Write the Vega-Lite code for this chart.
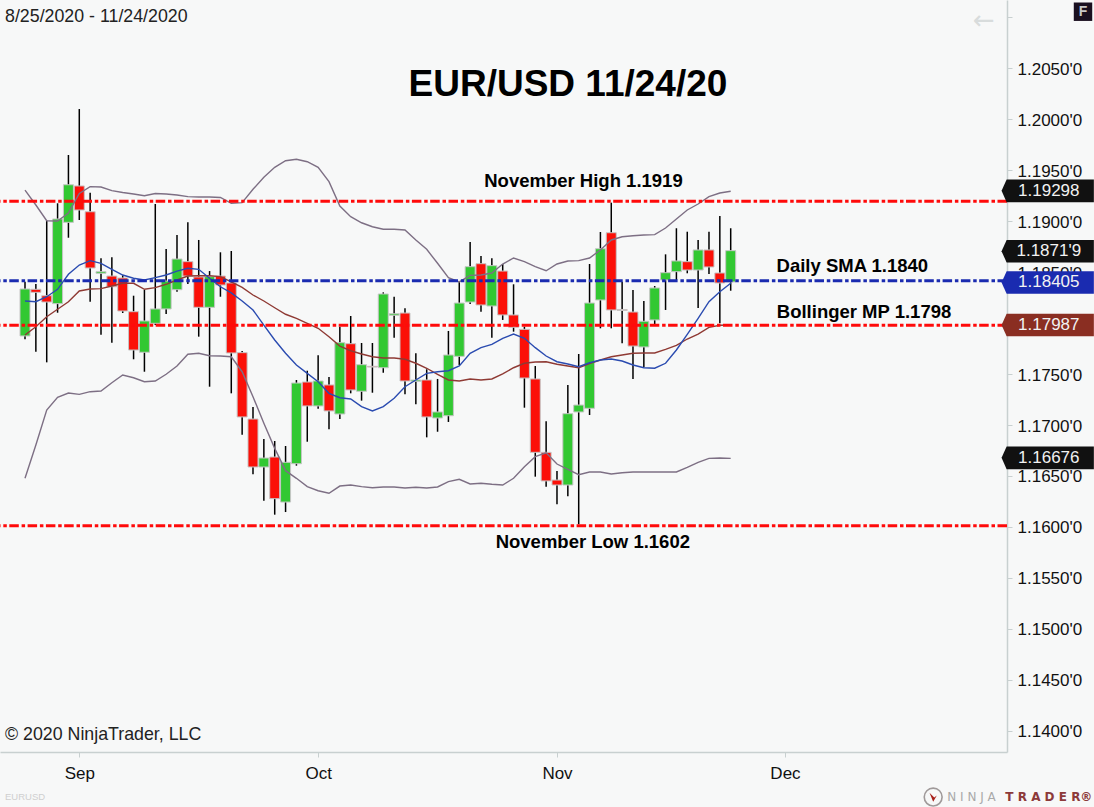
{
"$schema":"https://vega.github.io/schema/vega-lite/v6.json",
"width":1007,"height":752,
"autosize":{"type":"none"},
"padding":{"left":0,"top":0,"right":87,"bottom":55},
"background":"#f7f8f8",
"config":{"view":{"stroke":null},"font":"Liberation Sans"},
"resolve":{"scale":{"color":"independent"}},
"datasets":{"candles":[
{"session":0,"date":"2020-08-25","open":1.17874,"high":1.18406,"low":1.17841,"close":1.18335,"upper":1.19306,"mid":1.17883,"lower":1.16477,"sma":1.18217},
{"session":1,"date":"2020-08-26","open":1.18332,"high":1.18384,"low":1.1772,"close":1.18302,"upper":1.19159,"mid":1.17965,"lower":1.16804,"sma":1.1821},
{"session":2,"date":"2020-08-27","open":1.18269,"high":1.19005,"low":1.17615,"close":1.18207,"upper":1.19005,"mid":1.18063,"lower":1.17147,"sma":1.18259},
{"session":3,"date":"2020-08-28","open":1.18191,"high":1.19176,"low":1.18102,"close":1.19022,"upper":1.19002,"mid":1.18136,"lower":1.17272,"sma":1.18332},
{"session":4,"date":"2020-08-31","open":1.18989,"high":1.1965,"low":1.18838,"close":1.19358,"upper":1.19081,"mid":1.1821,"lower":1.17314,"sma":1.18479},
{"session":5,"date":"2020-09-01","open":1.19346,"high":1.20101,"low":1.19012,"close":1.1911,"upper":1.19272,"mid":1.18315,"lower":1.17301,"sma":1.1857},
{"session":6,"date":"2020-09-02","open":1.19093,"high":1.1928,"low":1.1821,"close":1.18541,"upper":1.19339,"mid":1.18335,"lower":1.17327,"sma":1.18613},
{"session":7,"date":"2020-09-03","open":1.18489,"high":1.18636,"low":1.17886,"close":1.18505,"upper":1.19336,"mid":1.18338,"lower":1.17334,"sma":1.18587},
{"session":8,"date":"2020-09-04","open":1.18462,"high":1.18646,"low":1.17808,"close":1.18357,"upper":1.193,"mid":1.18364,"lower":1.17415,"sma":1.18528},
{"session":9,"date":"2020-09-07","open":1.18443,"high":1.1847,"low":1.18099,"close":1.18119,"upper":1.19282,"mid":1.18391,"lower":1.17491,"sma":1.18472},
{"session":10,"date":"2020-09-08","open":1.18112,"high":1.18269,"low":1.17645,"close":1.17736,"upper":1.19267,"mid":1.18391,"lower":1.17464,"sma":1.1844},
{"session":11,"date":"2020-09-09","open":1.17714,"high":1.18325,"low":1.17523,"close":1.18021,"upper":1.1925,"mid":1.18332,"lower":1.17425,"sma":1.18423},
{"session":12,"date":"2020-09-10","open":1.17998,"high":1.19169,"low":1.17981,"close":1.18139,"upper":1.19272,"mid":1.18348,"lower":1.17432,"sma":1.18446},
{"session":13,"date":"2020-09-11","open":1.18139,"high":1.18727,"low":1.18089,"close":1.18413,"upper":1.19267,"mid":1.18381,"lower":1.17498,"sma":1.18472},
{"session":14,"date":"2020-09-14","open":1.18328,"high":1.18865,"low":1.18308,"close":1.18629,"upper":1.19257,"mid":1.18423,"lower":1.17579,"sma":1.18511},
{"session":15,"date":"2020-09-15","open":1.18603,"high":1.18989,"low":1.18384,"close":1.18462,"upper":1.19241,"mid":1.18462,"lower":1.17694,"sma":1.18538},
{"session":16,"date":"2020-09-16","open":1.18453,"high":1.18816,"low":1.17867,"close":1.18155,"upper":1.19238,"mid":1.18465,"lower":1.17704,"sma":1.18528},
{"session":17,"date":"2020-09-17","open":1.18155,"high":1.18511,"low":1.17376,"close":1.18456,"upper":1.19238,"mid":1.18465,"lower":1.1768,"sma":1.1844},
{"session":18,"date":"2020-09-18","open":1.18462,"high":1.18695,"low":1.18259,"close":1.18374,"upper":1.19233,"mid":1.18456,"lower":1.17677,"sma":1.18357},
{"session":19,"date":"2020-09-21","open":1.18394,"high":1.18708,"low":1.17311,"close":1.17707,"upper":1.19176,"mid":1.18404,"lower":1.1767,"sma":1.18296},
{"session":20,"date":"2020-09-22","open":1.1771,"high":1.17726,"low":1.16905,"close":1.17079,"upper":1.19182,"mid":1.1835,"lower":1.17523,"sma":1.18217},
{"session":21,"date":"2020-09-23","open":1.17059,"high":1.17177,"low":1.16516,"close":1.16588,"upper":1.19313,"mid":1.18276,"lower":1.17278,"sma":1.18129},
{"session":22,"date":"2020-09-24","open":1.16588,"high":1.16863,"low":1.16257,"close":1.16676,"upper":1.19431,"mid":1.18217,"lower":1.17017,"sma":1.17981},
{"session":23,"date":"2020-09-25","open":1.16686,"high":1.16843,"low":1.1612,"close":1.16277,"upper":1.19529,"mid":1.18151,"lower":1.16771,"sma":1.17834},
{"session":24,"date":"2020-09-28","open":1.16244,"high":1.16794,"low":1.16146,"close":1.16634,"upper":1.19594,"mid":1.18087,"lower":1.16552,"sma":1.17704},
{"session":25,"date":"2020-09-29","open":1.1662,"high":1.17442,"low":1.16601,"close":1.17412,"upper":1.19608,"mid":1.18047,"lower":1.16477,"sma":1.17589},
{"session":26,"date":"2020-09-30","open":1.17422,"high":1.17533,"low":1.16836,"close":1.17187,"upper":1.19584,"mid":1.17998,"lower":1.16395,"sma":1.17507},
{"session":27,"date":"2020-10-01","open":1.17187,"high":1.17684,"low":1.1716,"close":1.17432,"upper":1.19529,"mid":1.17949,"lower":1.16355,"sma":1.17425},
{"session":28,"date":"2020-10-02","open":1.17393,"high":1.17471,"low":1.16958,"close":1.17138,"upper":1.19388,"mid":1.17867,"lower":1.1633,"sma":1.17311},
{"session":29,"date":"2020-10-05","open":1.17108,"high":1.17965,"low":1.17059,"close":1.17808,"upper":1.19149,"mid":1.17775,"lower":1.16401,"sma":1.17268},
{"session":30,"date":"2020-10-06","open":1.17798,"high":1.1807,"low":1.17311,"close":1.17344,"upper":1.19044,"mid":1.17729,"lower":1.16411,"sma":1.17255},
{"session":31,"date":"2020-10-07","open":1.17331,"high":1.17805,"low":1.17239,"close":1.17592,"upper":1.18985,"mid":1.17697,"lower":1.16395,"sma":1.1718},
{"session":32,"date":"2020-10-08","open":1.17576,"high":1.17805,"low":1.17317,"close":1.17569,"upper":1.18946,"mid":1.1767,"lower":1.16385,"sma":1.17138},
{"session":33,"date":"2020-10-09","open":1.17562,"high":1.18302,"low":1.17513,"close":1.18286,"upper":1.18921,"mid":1.17658,"lower":1.16392,"sma":1.1718},
{"session":34,"date":"2020-10-12","open":1.18077,"high":1.18259,"low":1.17857,"close":1.18092,"upper":1.18921,"mid":1.17658,"lower":1.16392,"sma":1.17262},
{"session":35,"date":"2020-10-13","open":1.18099,"high":1.18145,"low":1.17301,"close":1.17432,"upper":1.18914,"mid":1.17645,"lower":1.16382,"sma":1.17376},
{"session":36,"date":"2020-10-14","open":1.17429,"high":1.17704,"low":1.17203,"close":1.17442,"upper":1.18816,"mid":1.17606,"lower":1.16389,"sma":1.17442},
{"session":37,"date":"2020-10-15","open":1.17442,"high":1.17547,"low":1.16879,"close":1.17079,"upper":1.18724,"mid":1.17557,"lower":1.16382,"sma":1.17507},
{"session":38,"date":"2020-10-16","open":1.17069,"high":1.17452,"low":1.16934,"close":1.17128,"upper":1.18587,"mid":1.17498,"lower":1.16392,"sma":1.17523},
{"session":39,"date":"2020-10-19","open":1.17091,"high":1.17923,"low":1.1703,"close":1.17687,"upper":1.18446,"mid":1.17442,"lower":1.16444,"sma":1.17533},
{"session":40,"date":"2020-10-20","open":1.17674,"high":1.18406,"low":1.17589,"close":1.18197,"upper":1.18404,"mid":1.17432,"lower":1.16467,"sma":1.17579},
{"session":41,"date":"2020-10-21","open":1.18207,"high":1.18796,"low":1.18188,"close":1.18554,"upper":1.18469,"mid":1.17452,"lower":1.16421,"sma":1.17704},
{"session":42,"date":"2020-10-22","open":1.18583,"high":1.18659,"low":1.18112,"close":1.18178,"upper":1.18472,"mid":1.17442,"lower":1.16428,"sma":1.17759},
{"session":43,"date":"2020-10-23","open":1.18168,"high":1.18636,"low":1.17857,"close":1.18564,"upper":1.18492,"mid":1.17452,"lower":1.16418,"sma":1.17792},
{"session":44,"date":"2020-10-26","open":1.18511,"high":1.1858,"low":1.18031,"close":1.1808,"upper":1.1858,"mid":1.17501,"lower":1.16411,"sma":1.17851},
{"session":45,"date":"2020-10-27","open":1.1808,"high":1.18381,"low":1.17916,"close":1.17959,"upper":1.18639,"mid":1.17562,"lower":1.16477,"sma":1.17893},
{"session":46,"date":"2020-10-28","open":1.17939,"high":1.17965,"low":1.1717,"close":1.17461,"upper":1.18603,"mid":1.17606,"lower":1.16591,"sma":1.17851},
{"session":47,"date":"2020-10-29","open":1.17452,"high":1.17579,"low":1.16493,"close":1.16732,"upper":1.18554,"mid":1.17618,"lower":1.16689,"sma":1.17759},
{"session":48,"date":"2020-10-30","open":1.16732,"high":1.17036,"low":1.16395,"close":1.16451,"upper":1.18514,"mid":1.17621,"lower":1.16728,"sma":1.17677},
{"session":49,"date":"2020-11-02","open":1.1646,"high":1.16549,"low":1.16222,"close":1.16411,"upper":1.1858,"mid":1.17596,"lower":1.16617,"sma":1.17621},
{"session":50,"date":"2020-11-03","open":1.16411,"high":1.17393,"low":1.163,"close":1.17111,"upper":1.1861,"mid":1.17579,"lower":1.16565,"sma":1.17599},
{"session":51,"date":"2020-11-04","open":1.17128,"high":1.17697,"low":1.16026,"close":1.17196,"upper":1.18613,"mid":1.17562,"lower":1.16512,"sma":1.17572},
{"session":52,"date":"2020-11-05","open":1.17164,"high":1.1858,"low":1.17098,"close":1.18197,"upper":1.18639,"mid":1.17602,"lower":1.16539,"sma":1.17611},
{"session":53,"date":"2020-11-06","open":1.18227,"high":1.18894,"low":1.17949,"close":1.1873,"upper":1.18718,"mid":1.17638,"lower":1.16539,"sma":1.17638},
{"session":54,"date":"2020-11-09","open":1.18887,"high":1.19182,"low":1.17949,"close":1.18129,"upper":1.18816,"mid":1.1767,"lower":1.16519,"sma":1.17648},
{"session":55,"date":"2020-11-10","open":1.18134,"high":1.18406,"low":1.17802,"close":1.18124,"upper":1.18848,"mid":1.17687,"lower":1.16532,"sma":1.17628},
{"session":56,"date":"2020-11-11","open":1.18109,"high":1.18325,"low":1.17452,"close":1.17775,"upper":1.18858,"mid":1.17704,"lower":1.16539,"sma":1.17589},
{"session":57,"date":"2020-11-12","open":1.17766,"high":1.18217,"low":1.17566,"close":1.18018,"upper":1.18865,"mid":1.17707,"lower":1.16539,"sma":1.17562},
{"session":58,"date":"2020-11-13","open":1.18031,"high":1.18364,"low":1.17981,"close":1.18345,"upper":1.18868,"mid":1.17707,"lower":1.16539,"sma":1.17557},
{"session":59,"date":"2020-11-16","open":1.18423,"high":1.18675,"low":1.18129,"close":1.18495,"upper":1.18933,"mid":1.17743,"lower":1.16539,"sma":1.17606},
{"session":60,"date":"2020-11-17","open":1.18505,"high":1.18931,"low":1.18423,"close":1.1861,"upper":1.19022,"mid":1.17782,"lower":1.16539,"sma":1.17736},
{"session":61,"date":"2020-11-18","open":1.18603,"high":1.18897,"low":1.18489,"close":1.18521,"upper":1.1911,"mid":1.17844,"lower":1.16585,"sma":1.1789},
{"session":62,"date":"2020-11-19","open":1.18521,"high":1.18816,"low":1.18148,"close":1.18718,"upper":1.19169,"mid":1.17893,"lower":1.16634,"sma":1.18047},
{"session":63,"date":"2020-11-20","open":1.18718,"high":1.18897,"low":1.18482,"close":1.18551,"upper":1.19241,"mid":1.17959,"lower":1.16673,"sma":1.1821},
{"session":64,"date":"2020-11-23","open":1.18492,"high":1.19051,"low":1.17998,"close":1.18394,"upper":1.19277,"mid":1.17979,"lower":1.16676,"sma":1.18308},
{"session":65,"date":"2020-11-24","open":1.18404,"high":1.18931,"low":1.18318,"close":1.18711,"upper":1.19294,"mid":1.17981,"lower":1.16673,"sma":1.18391}
],
"tags":[{"series":"Upper band","price":1.19298,"label":"1.19298"},{"series":"Last","price":1.18705,"label":"1.1871'9"},{"series":"SMA","price":1.18399,"label":"1.18405"},{"series":"Mid band","price":1.17982,"label":"1.17987"},{"series":"Lower band","price":1.16678,"label":"1.16676"}]
},
"layer":[
{"data":{"name":"candles"},"mark":{"type":"rule","color":"#000000","strokeWidth":1.5},
 "encoding":{
  "x":{"field":"session","type":"quantitative","scale":{"domain":[-2.303,90.45],"nice":false,"zero":false,"padding":0},
   "axis":{"title":null,"values":[5,27,49,70],"labelExpr":"datum.value==5?'Sep':datum.value==27?'Oct':datum.value==49?'Nov':'Dec'","grid":false,"domainColor":"#c8d0d0","domainWidth":1.5,"tickColor":"#c8d0d0","tickWidth":1,"tickSize":5,"labelFont":"Liberation Sans","labelFontSize":17,"labelColor":"#111111","labelPadding":8,"labelFlush":false,"labelOverlap":false}},
  "y":{"field":"low","type":"quantitative","scale":{"domain":[1.13791,1.21171],"nice":false,"zero":false},
   "axis":{"title":null,"orient":"right","values":[1.14,1.145,1.15,1.155,1.16,1.165,1.17,1.175,1.18,1.185,1.19,1.195,1.2,1.205,1.21],"labelExpr":"datum.value>1.207?'':format(datum.value,'.4f')+\"'0\"","grid":false,"domainColor":"#c8d0d0","domainWidth":1.5,"tickColor":"#c8d0d0","tickWidth":1,"tickSize":5,"labelFont":"Liberation Sans","labelFontSize":17,"labelColor":"#111111","labelPadding":5,"labelOffset":1,"labelOverlap":false,"labelBound":false,"labelFlush":false}},
  "y2":{"field":"high"}}},
{"data":{"name":"candles"},"mark":{"type":"bar","size":10,"stroke":"#c6c6c6","strokeWidth":1},
 "encoding":{
  "x":{"field":"session","type":"quantitative","scale":{"domain":[-2.303,90.45],"nice":false,"zero":false,"padding":0},"axis":{"title":null}},
  "y":{"field":"open","type":"quantitative","scale":{"domain":[1.13791,1.21171],"nice":false,"zero":false},"axis":{"title":null}},
  "y2":{"field":"close"},
  "color":{"condition":{"test":"datum.close>=datum.open","value":"#32c832"},"value":"#fb1008"}}},
{"data":{"name":"candles"},"mark":{"type":"line","color":"#7d6f84","strokeWidth":1.4},
 "encoding":{
  "x":{"field":"session","type":"quantitative","scale":{"domain":[-2.303,90.45],"nice":false,"zero":false,"padding":0},"axis":{"title":null}},
  "y":{"field":"upper","type":"quantitative","scale":{"domain":[1.13791,1.21171],"nice":false,"zero":false},"axis":{"title":null}}}},
{"data":{"name":"candles"},"mark":{"type":"line","color":"#7d6f84","strokeWidth":1.4},
 "encoding":{
  "x":{"field":"session","type":"quantitative","scale":{"domain":[-2.303,90.45],"nice":false,"zero":false,"padding":0},"axis":{"title":null}},
  "y":{"field":"lower","type":"quantitative","scale":{"domain":[1.13791,1.21171],"nice":false,"zero":false},"axis":{"title":null}}}},
{"data":{"name":"candles"},"mark":{"type":"line","color":"#8f3a34","strokeWidth":1.4},
 "encoding":{
  "x":{"field":"session","type":"quantitative","scale":{"domain":[-2.303,90.45],"nice":false,"zero":false,"padding":0},"axis":{"title":null}},
  "y":{"field":"mid","type":"quantitative","scale":{"domain":[1.13791,1.21171],"nice":false,"zero":false},"axis":{"title":null}}}},
{"data":{"name":"candles"},"mark":{"type":"line","color":"#2a4bb0","strokeWidth":1.4},
 "encoding":{
  "x":{"field":"session","type":"quantitative","scale":{"domain":[-2.303,90.45],"nice":false,"zero":false,"padding":0},"axis":{"title":null}},
  "y":{"field":"sma","type":"quantitative","scale":{"domain":[1.13791,1.21171],"nice":false,"zero":false},"axis":{"title":null}}}},
{"data":{"values":[{"level":"November High","price":1.19196},{"level":"Bollinger MP","price":1.1798},{"level":"November Low","price":1.16012}]},
 "mark":{"type":"rule","strokeWidth":3,"strokeDash":[9.5,2.5,3.5,2.8],"color":"#ff0a0a"},
 "encoding":{
  "y":{"field":"price","type":"quantitative","scale":{"domain":[1.13791,1.21171],"nice":false,"zero":false},"axis":{"title":null}}}},
{"data":{"values":[{"level":"Daily SMA","price":1.18416}]},
 "mark":{"type":"rule","strokeWidth":3,"strokeDash":[9.5,2.5,3.5,2.8],"color":"#1a2bb0"},
 "encoding":{
  "y":{"field":"price","type":"quantitative","scale":{"domain":[1.13791,1.21171],"nice":false,"zero":false},"axis":{"title":null}}}},
{"data":{"name":"tags"},
 "mark":{"type":"point","filled":true,"opacity":1,"size":8519,"shape":"M-1,0L-0.89,-0.245L1,-0.245L1,0.245L-0.89,0.245Z"},
 "encoding":{
  "x":{"datum":94.2,"type":"quantitative","scale":{"domain":[-2.303,90.45],"nice":false,"zero":false,"padding":0},"axis":{"title":null}},
  "y":{"field":"price","type":"quantitative","scale":{"domain":[1.13791,1.21171],"nice":false,"zero":false},"axis":{"title":null}},
  "color":{"field":"series","type":"nominal","legend":null,"scale":{"domain":["Upper band","Last","SMA","Mid band","Lower band"],"range":["#111111","#111111","#1a2bb0","#8a2e22","#111111"]}}}},
{"data":{"name":"tags"},
 "mark":{"type":"text","fontSize":17,"color":"#f2f2f2","align":"center","baseline":"middle","font":"Liberation Sans"},
 "encoding":{
  "x":{"datum":94.3,"type":"quantitative","scale":{"domain":[-2.303,90.45],"nice":false,"zero":false,"padding":0},"axis":{"title":null}},
  "y":{"field":"price","type":"quantitative","scale":{"domain":[1.13791,1.21171],"nice":false,"zero":false},"axis":{"title":null}},
  "text":{"field":"label"}}},
{"data":{"values":[{"note":"EUR/USD 11/24/20","session":50.01,"price":1.20332}]},
 "mark":{"type":"text","fontSize":37,"fontWeight":"bold","color":"#000000","align":"center","baseline":"middle","font":"Liberation Sans"},
 "encoding":{
  "x":{"field":"session","type":"quantitative","scale":{"domain":[-2.303,90.45],"nice":false,"zero":false,"padding":0},"axis":{"title":null}},
  "y":{"field":"price","type":"quantitative","scale":{"domain":[1.13791,1.21171],"nice":false,"zero":false},"axis":{"title":null}},
  "text":{"field":"note"}}},
{"data":{"values":[{"note":"November High 1.1919","session":51.44,"price":1.19395},{"note":"Daily SMA 1.1840","session":76.2,"price":1.18565},{"note":"Bollinger MP 1.1798","session":77.28,"price":1.18109},{"note":"November Low 1.1602","session":52.3,"price":1.15847}]},
 "mark":{"type":"text","fontSize":18.5,"fontWeight":"bold","color":"#000000","align":"center","baseline":"middle","font":"Liberation Sans"},
 "encoding":{
  "x":{"field":"session","type":"quantitative","scale":{"domain":[-2.303,90.45],"nice":false,"zero":false,"padding":0},"axis":{"title":null}},
  "y":{"field":"price","type":"quantitative","scale":{"domain":[1.13791,1.21171],"nice":false,"zero":false},"axis":{"title":null}},
  "text":{"field":"note"}}},
{"data":{"values":[{"note":"8/25/2020 - 11/24/2020","session":-1.84,"price":1.21004},{"note":"© 2020 NinjaTrader, LLC","session":-1.84,"price":1.13958}]},
 "mark":{"type":"text","fontSize":17.8,"color":"#222222","align":"left","baseline":"middle","font":"Liberation Sans"},
 "encoding":{
  "x":{"field":"session","type":"quantitative","scale":{"domain":[-2.303,90.45],"nice":false,"zero":false,"padding":0},"axis":{"title":null}},
  "y":{"field":"price","type":"quantitative","scale":{"domain":[1.13791,1.21171],"nice":false,"zero":false},"axis":{"title":null}},
  "text":{"field":"note"}}},
{"data":{"values":[{"note":"EURUSD","session":-1.84,"price":1.13349}]},
 "mark":{"type":"text","fontSize":9.5,"color":"#cfcfcf","align":"left","baseline":"middle","font":"Liberation Sans"},
 "encoding":{
  "x":{"field":"session","type":"quantitative","scale":{"domain":[-2.303,90.45],"nice":false,"zero":false,"padding":0},"axis":{"title":null}},
  "y":{"field":"price","type":"quantitative","scale":{"domain":[1.13791,1.21171],"nice":false,"zero":false},"axis":{"title":null}},
  "text":{"field":"note"}}},
{"data":{"values":[{"note":"←","session":88.33,"price":1.20962}]},
 "mark":{"type":"text","fontSize":26,"color":"#d8dcdc","align":"center","baseline":"middle","font":"DejaVu Sans"},
 "encoding":{
  "x":{"field":"session","type":"quantitative","scale":{"domain":[-2.303,90.45],"nice":false,"zero":false,"padding":0},"axis":{"title":null}},
  "y":{"field":"price","type":"quantitative","scale":{"domain":[1.13791,1.21171],"nice":false,"zero":false},"axis":{"title":null}},
  "text":{"field":"note"}}},
{"data":{"values":[{"session":97.45,"price":1.21056}]},
 "mark":{"type":"point","shape":"square","filled":true,"opacity":1,"size":340,"color":"#1a1020"},
 "encoding":{
  "x":{"field":"session","type":"quantitative","scale":{"domain":[-2.303,90.45],"nice":false,"zero":false,"padding":0},"axis":{"title":null}},
  "y":{"field":"price","type":"quantitative","scale":{"domain":[1.13791,1.21171],"nice":false,"zero":false},"axis":{"title":null}}}},
{"data":{"values":[{"note":"F","session":97.45,"price":1.21056}]},
 "mark":{"type":"text","fontSize":14,"fontWeight":"bold","color":"#c8c8c8","align":"center","baseline":"middle","font":"Liberation Sans"},
 "encoding":{
  "x":{"field":"session","type":"quantitative","scale":{"domain":[-2.303,90.45],"nice":false,"zero":false,"padding":0},"axis":{"title":null}},
  "y":{"field":"price","type":"quantitative","scale":{"domain":[1.13791,1.21171],"nice":false,"zero":false},"axis":{"title":null}},
  "text":{"field":"note"}}},
{"data":{"values":[{"session":83.65,"price":1.13349}]},
 "mark":{"type":"point","shape":"circle","filled":false,"opacity":1,"size":320,"color":"#a09a9a","strokeWidth":1.6},
 "encoding":{
  "x":{"field":"session","type":"quantitative","scale":{"domain":[-2.303,90.45],"nice":false,"zero":false,"padding":0},"axis":{"title":null}},
  "y":{"field":"price","type":"quantitative","scale":{"domain":[1.13791,1.21171],"nice":false,"zero":false},"axis":{"title":null}}}},
{"data":{"values":[{"session":83.65,"price":1.13349}]},
 "mark":{"type":"point","shape":"M-0.7,-0.8L0,0.9L0.7,-0.3L0.2,0.1Z","filled":true,"opacity":1,"size":110,"color":"#a8201a"},
 "encoding":{
  "x":{"field":"session","type":"quantitative","scale":{"domain":[-2.303,90.45],"nice":false,"zero":false,"padding":0},"axis":{"title":null}},
  "y":{"field":"price","type":"quantitative","scale":{"domain":[1.13791,1.21171],"nice":false,"zero":false},"axis":{"title":null}}}},
{"data":{"values":[{"note":"N I N J A","session":84.95,"price":1.13349}]},
 "mark":{"type":"text","fontSize":12,"color":"#a9a9a9","align":"left","baseline":"middle","font":"DejaVu Sans"},
 "encoding":{
  "x":{"field":"session","type":"quantitative","scale":{"domain":[-2.303,90.45],"nice":false,"zero":false,"padding":0},"axis":{"title":null}},
  "y":{"field":"price","type":"quantitative","scale":{"domain":[1.13791,1.21171],"nice":false,"zero":false},"axis":{"title":null}},
  "text":{"field":"note"}}},
{"data":{"values":[{"note":"T R A D E R®","session":90.3,"price":1.13349}]},
 "mark":{"type":"text","fontSize":12,"fontWeight":"bold","color":"#8c3a3a","align":"left","baseline":"middle","font":"DejaVu Sans"},
 "encoding":{
  "x":{"field":"session","type":"quantitative","scale":{"domain":[-2.303,90.45],"nice":false,"zero":false,"padding":0},"axis":{"title":null}},
  "y":{"field":"price","type":"quantitative","scale":{"domain":[1.13791,1.21171],"nice":false,"zero":false},"axis":{"title":null}},
  "text":{"field":"note"}}}
]
}
